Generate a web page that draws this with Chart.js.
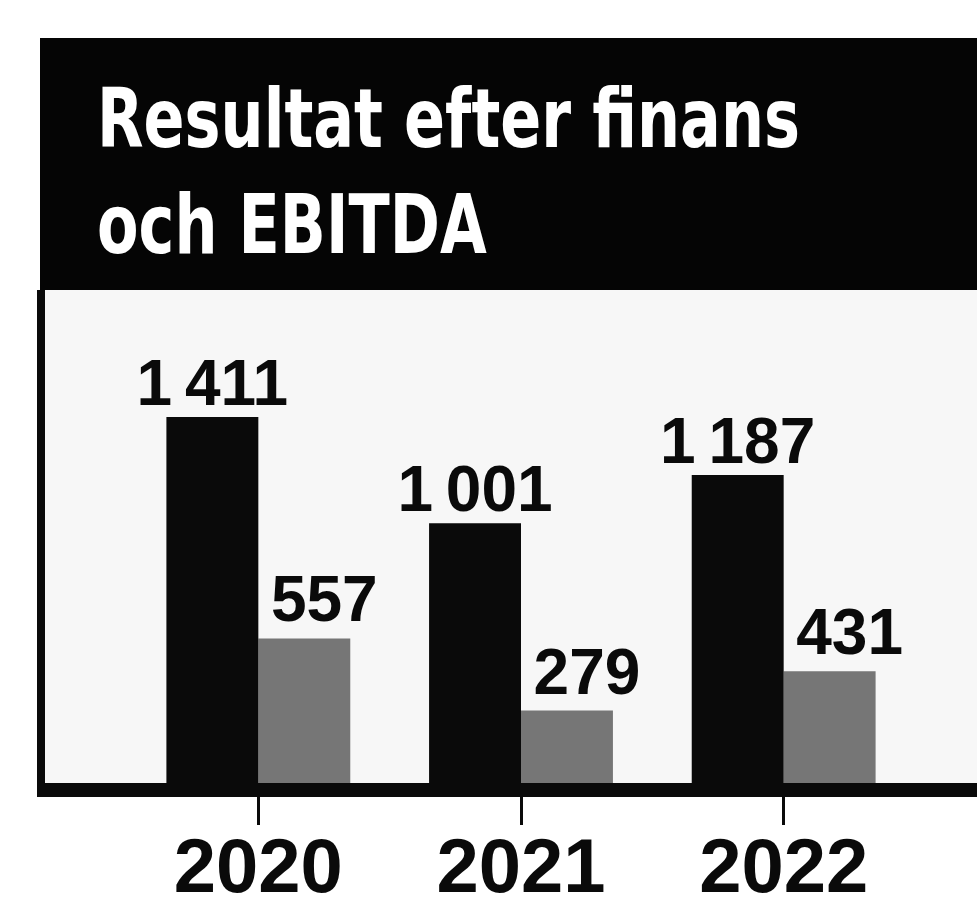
<!DOCTYPE html>
<html>
<head>
<meta charset="utf-8">
<script src="https://cdn.jsdelivr.net/npm/chart.js@4"></script>
<style>
  html, body { margin: 0; padding: 0; background: #fff; }
  #wrap { position: relative; width: 977px; height: 898px; overflow: hidden; }
  #chart { position: absolute; left: 0; top: 0; }
  #head {
    position: absolute; left: 40px; top: 38px; width: 937px; height: 252px;
    background: #050505; color: #fff;
  }
  #head h1 {
    margin: 0; position: absolute; left: 57px; top: 28px;
    font-family: "DejaVu Sans Condensed", "DejaVu Sans", sans-serif;
    font-weight: 700; font-size: 82px; line-height: 106px; white-space: nowrap;
    transform-origin: 0 0;
  }
</style>
</head>
<body>
<div id="wrap">
  <canvas id="chart" width="977" height="898"></canvas>
  <div id="head"><h1 id="title">Resultat efter finans<br>och EBITDA</h1></div>
</div>
<script>
// MSEK
const years = ["2020", "2021", "2022"];
const ebitda = [1411, 1001, 1187];
const resultatEfterFinans = [557, 279, 431];

const fmt = (v) => String(v).replace(/\B(?=(\d{3})+(?!\d))/g, "\u2009");

// squeeze the headline to the printed width (narrow headline face in the original)
const title = document.getElementById("title");
title.style.transform = "scaleX(" + (703 / title.getBoundingClientRect().width) + ")";

// panel behind the bars, left border, baseline and value labels
const panel = {
  id: "panel",
  beforeDraw(chart) {
    const { ctx, chartArea } = chart;
    ctx.save();
    ctx.fillStyle = "#f7f7f7";
    ctx.fillRect(40, 290, 977 - 40, chartArea.bottom - 290);
    ctx.fillStyle = "#0a0a0a";
    ctx.fillRect(37, 290, 8, chartArea.bottom - 290 + 14);
    ctx.restore();
  },
  afterDatasetsDraw(chart) {
    const { ctx, chartArea } = chart;
    ctx.save();
    ctx.fillStyle = "#0a0a0a";
    ctx.fillRect(37, chartArea.bottom, 977 - 37, 14);
    ctx.font = "bold 64px 'Liberation Sans', Arial, sans-serif";
    ctx.textAlign = "center";
    ctx.textBaseline = "alphabetic";
    chart.data.datasets.forEach((ds, di) => {
      const meta = chart.getDatasetMeta(di);
      meta.data.forEach((bar, i) => {
        const dx = di === 1 ? 20 : 0;
        const gap = di === 1 ? 17 : 12;
        ctx.fillText(fmt(ds.data[i]), bar.x + dx, bar.y - gap);
      });
    });
    ctx.restore();
  }
};

new Chart(document.getElementById("chart"), {
  type: "bar",
  data: {
    labels: years,
    datasets: [
      { label: "EBITDA", data: ebitda, backgroundColor: "#0a0a0a" },
      { label: "Resultat efter finans", data: resultatEfterFinans, backgroundColor: "#767676" }
    ]
  },
  options: {
    responsive: false,
    animation: false,
    devicePixelRatio: 1,
    layout: { padding: { top: 290, left: 127, right: 62, bottom: 0 } },
    datasets: { bar: { categoryPercentage: 0.7, barPercentage: 1.0 } },
    plugins: { legend: { display: false }, tooltip: { enabled: false }, title: { display: false } },
    scales: {
      x: {
        offset: true,
        border: { display: false },
        grid: { offset: false, drawOnChartArea: false, drawTicks: true, tickLength: 42, color: "#0a0a0a", lineWidth: 3 },
        ticks: {
          padding: 0,
          color: "#0a0a0a",
          font: { family: "'Liberation Sans', Arial, sans-serif", weight: "bold", size: 76 }
        },
        afterFit(s) { s.height = 115; }
      },
      y: { display: false, min: 0, max: 1900 }
    }
  },
  plugins: [panel]
});
</script>
</body>
</html>
